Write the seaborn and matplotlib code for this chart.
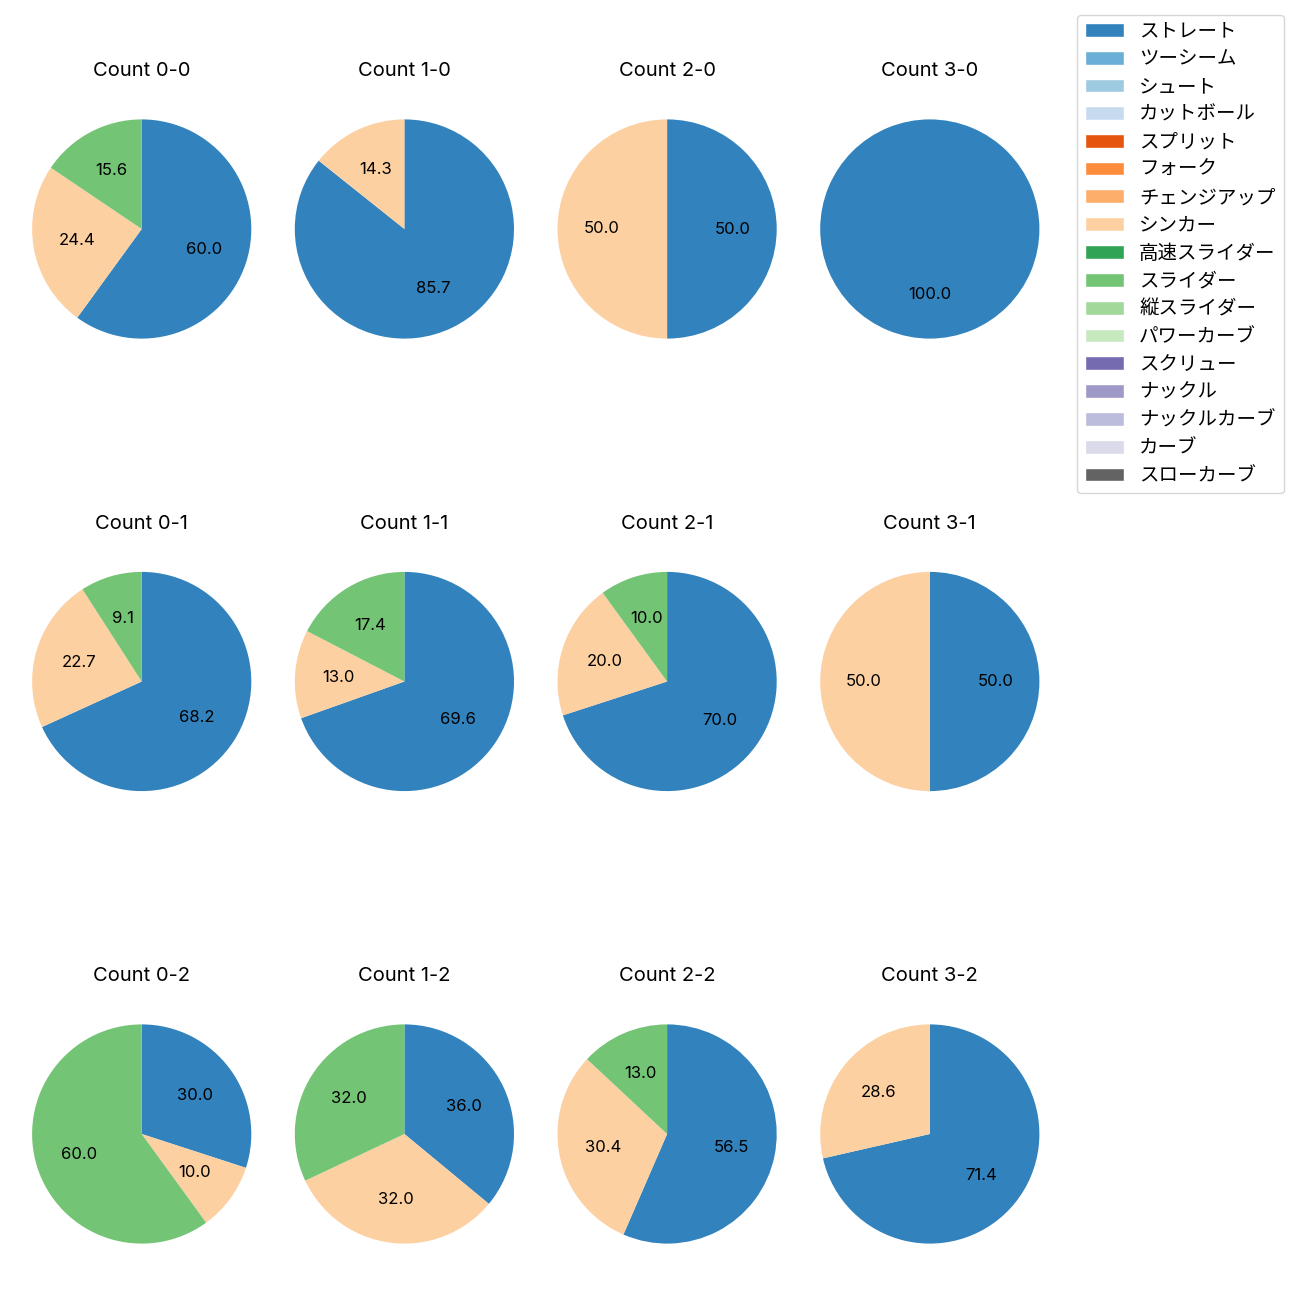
import numpy as np
import seaborn as sns
from matplotlib import pyplot as plt
from matplotlib.patches import Patch

# pitch types (legend order) and their tab20c colours
pitch_types = ['ストレート', 'ツーシーム', 'シュート', 'カットボール', 'スプリット', 'フォーク',
               'チェンジアップ', 'シンカー', '高速スライダー', 'スライダー', '縦スライダー',
               'パワーカーブ', 'スクリュー', 'ナックル', 'ナックルカーブ', 'カーブ', 'スローカーブ']
pitch_colors = ['#3182bd', '#6baed6', '#9ecae1', '#c6dbef', '#e6550d', '#fd8d3c',
                '#fdae6b', '#fdd0a2', '#31a354', '#74c476', '#a1d99b', '#c7e9c0',
                '#756bb1', '#9e9ac8', '#bcbddc', '#dadaeb', '#636363']

balls = [0, 1, 2, 3]
strikes = [0, 1, 2]

# pitch counts per ball-strike count: ストレート, シンカー, スライダー
straight = {(0, 0): 27, (1, 0): 6, (2, 0): 1, (3, 0): 1,
            (0, 1): 15, (1, 1): 16, (2, 1): 7, (3, 1): 1,
            (0, 2): 3, (1, 2): 9, (2, 2): 13, (3, 2): 5}
sinker = {(0, 0): 11, (1, 0): 1, (2, 0): 1, (3, 0): 0,
          (0, 1): 5, (1, 1): 3, (2, 1): 2, (3, 1): 1,
          (0, 2): 1, (1, 2): 8, (2, 2): 7, (3, 2): 2}
slider = {(0, 0): 7, (1, 0): 0, (2, 0): 0, (3, 0): 0,
          (0, 1): 2, (1, 1): 4, (2, 1): 1, (3, 1): 0,
          (0, 2): 6, (1, 2): 8, (2, 2): 3, (3, 2): 0}


def main():
    sns.set_theme(style="white")
    plt.rcParams['font.family'] = ['Inter', 'Noto Sans CJK JP', 'DejaVu Sans']
    plt.rcParams['text.color'] = 'black'

    fig = plt.figure(figsize=(13, 13), dpi=100)
    W = H = 1300.0
    size = 274.0                 # axes box in px, pie fills 0.8 of it
    x0, dx = 141.7, 262.7
    y0, dy = 229.0, 452.5

    color_of = dict(zip(pitch_types, pitch_colors))

    for s in strikes:
        for b in balls:
            cx = x0 + b * dx
            cy = y0 + s * dy
            ax = fig.add_axes([(cx - size / 2) / W, 1 - (cy + size / 2) / H, size / W, size / H])
            vals = [straight[(b, s)], sinker[(b, s)], slider[(b, s)]]
            names = ['ストレート', 'シンカー', 'スライダー']
            keep = [(v, n) for v, n in zip(vals, names) if v > 0]
            ax.pie([v for v, _ in keep], colors=[color_of[n] for _, n in keep],
                   startangle=90, counterclock=False, autopct='%.1f',
                   wedgeprops={'linewidth': 0},
                   textprops={'fontsize': 12, 'color': 'black'})
            ax.set_title(f'Count {b}-{s}', fontsize=14.5, pad=11.5, color='black')

    handles = [Patch(facecolor=c, label=n) for n, c in zip(pitch_types, pitch_colors)]
    fig.legend(handles=handles, loc='upper left', bbox_to_anchor=(1077 / W, 1 - 15 / H),
               borderaxespad=0, fontsize=14, labelspacing=0.5,
               frameon=True, edgecolor='#cccccc')

    fig.savefig("out.png", dpi=100)
    plt.close(fig)


if __name__ == '__main__':
    main()
